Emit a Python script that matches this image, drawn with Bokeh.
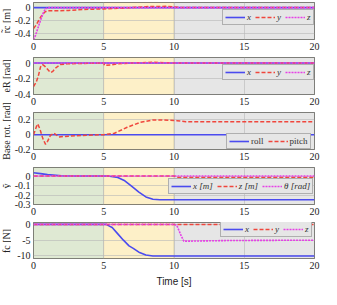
from bokeh.plotting import figure
from bokeh.layouts import column, row
from bokeh.models import Range1d, FixedTicker, BoxAnnotation, Legend, LegendItem
from bokeh.embed import file_html
from bokeh.resources import INLINE

# ---------------- data ----------------
phase_start = [0, 5, 10]
phase_end = [5, 10, 20]
phase_colors = ["#dfe9d3", "#fdf0c8", "#e6e6e6"]

x_ticks = [0, 5, 10, 15, 20]
x_tick_labels = ["0", "5", "10", "15", "20"]

y_axis_titles = ["r\u0303c [m]", "eR [rad]", "Base rot. [rad]", "y\u0303", "fc [N]"]

# Panel 1: r_c tilde [m]
p1_t_x = [0, 20]
p1_x = [0.0, 0.0]
p1_t_y = [0, 0.2, 0.4, 0.6, 0.8, 1.0, 1.3, 1.8, 2.5, 3.5, 5, 6, 7, 8, 9.5, 10, 10.5, 20]
p1_y = [-0.33, -0.27, -0.19, -0.12, -0.07, -0.05, -0.05, -0.05, -0.045, -0.03, -0.02, -0.01, 0.0, 0.015, 0.02, 0.01, 0.0, 0.0]
p1_t_z = [0, 0.15, 0.3, 0.5, 0.7, 0.85, 1.0, 20]
p1_z = [-0.5, -0.43, -0.33, -0.2, -0.08, -0.02, 0.0, 0.0]
p1_yticks = [-0.4, -0.2, 0]
p1_ylabels = ["-0.4", "-0.2", "0"]

# Panel 2: e_R [rad]
p2_t_x = [0, 20]
p2_x = [0.0, 0.0]
p2_t_y = [0, 0.2, 0.35, 0.5, 0.65, 0.8, 1.0, 1.2, 1.35, 1.6, 1.9, 2.4, 5, 5.05, 5.5, 6, 6.5, 7, 8.5, 10, 20]
p2_y = [-0.3, -0.24, -0.16, -0.05, -0.02, -0.04, -0.08, -0.12, -0.11, -0.06, -0.02, -0.01, 0.0, -0.03, -0.025, -0.01, -0.005, 0.0, 0.01, 0.0, 0.0]
p2_t_z = [0, 20]
p2_z = [0.0, 0.0]
p2_yticks = [-0.4, -0.2, 0]
p2_ylabels = ["-0.4", "-0.2", "0"]

# Panel 3: base rotation [rad]
p3_t_roll = [0, 20]
p3_roll = [0.0, 0.0]
p3_t_pitch = [0, 0.1, 0.23, 0.3, 0.45, 0.68, 0.86, 1.0, 1.2, 1.47, 1.8, 2.5, 3.5, 5, 5.76, 6.67, 7.57, 8.5, 9.15, 10.2, 10.85, 12, 20]
p3_pitch = [0.0, 0.05, 0.12, 0.145, 0.08, -0.06, -0.13, -0.09, -0.01, 0.02, -0.03, -0.02, -0.01, 0.0, 0.02, 0.1, 0.165, 0.2, 0.2, 0.19, 0.175, 0.175, 0.175]
p3_yticks = [-0.2, 0, 0.2]
p3_ylabels = ["-0.2", "0", "0.2"]

# Panel 4: y tilde
p4_t_x = [0, 0.5, 1, 2, 3, 5.3, 6, 6.5, 7, 7.5, 8, 8.5, 9, 20]
p4_x = [0.035, 0.025, 0.015, 0.003, 0.0, 0.0, -0.015, -0.05, -0.11, -0.17, -0.22, -0.245, -0.25, -0.25]
p4_t_z = [0, 10, 10.3, 20]
p4_z = [0.0, 0.0, -0.015, -0.015]
p4_t_th = [0, 20]
p4_th = [0.0, 0.0]
p4_yticks = [-0.3, -0.2, -0.1, 0]
p4_ylabels = ["-0.3", "-0.2", "-0.1", "0"]

# Panel 5: f_c [N]
p5_t_x = [0, 5.2, 5.3, 5.6, 6.0, 6.4, 6.8, 7.1, 7.5, 8.0, 8.5, 20]
p5_x = [0.0, 0.0, -0.3, -1.0, -3.0, -5.0, -6.8, -7.6, -8.8, -9.7, -10.0, -10.0]
p5_t_y = [0, 20]
p5_y = [0.0, 0.0]
p5_t_z = [0, 10, 10.2, 10.5, 10.7, 11, 14, 20]
p5_z = [0.0, 0.0, -0.3, -3.5, -5.3, -5.3, -5.1, -5.0]
p5_yticks = [-10, -5, 0]
p5_ylabels = ["-10", "-5", "0"]

# ---------------- style / layout ----------------
BLUE = "#4b4bef"
RED = "#f0463c"
MAG = "#e640e6"
DOT = "2 1"
SERIF = "Liberation Serif"

STRIP = 11
W = 321 - STRIP
BL, BR = 21, 7
TOP = 2
FRAME_H = 37
BOT = 16
BOT_LAST = 30
PANEL_H = TOP + FRAME_H + BOT
LAST_H = TOP + FRAME_H + BOT_LAST
TOTAL_H = 4 * PANEL_H + LAST_H


def make_panel(yr, yticks, ylabels, series, legend_loc, legend_style, last=False):
    bot = BOT_LAST if last else BOT
    p = figure(width=W, height=TOP + FRAME_H + bot, output_backend="svg",
               toolbar_location=None,
               x_range=Range1d(0, 20), y_range=Range1d(*yr),
               min_border_left=BL, min_border_right=BR, min_border_top=TOP,
               min_border_bottom=bot)
    p.background_fill_color = "white"
    p.border_fill_color = "white"
    p.outline_line_color = "#555555"
    p.outline_line_width = 1
    for s, e, c in zip(phase_start, phase_end, phase_colors):
        p.add_layout(BoxAnnotation(left=s, right=e, fill_color=c, fill_alpha=1.0,
                                   line_color="#aaa88a", line_width=0.8, level="image"))
    items = []
    for (t, v, color, dash, lw, label) in series:
        r = p.line(t, v, line_color=color, line_dash=dash, line_width=lw)
        items.append(LegendItem(label=label, renderers=[r]))
    leg = Legend(items=items, location=legend_loc, orientation="horizontal",
                 label_text_font=SERIF, label_text_font_size="9px",
                 label_text_font_style=legend_style, label_text_color="#333333",
                 glyph_width=20, glyph_height=8, label_standoff=2, spacing=4,
                 padding=2, margin=0, label_height=8, label_width=0,
                 border_line_color="#777777", border_line_width=1,
                 background_fill_color="#e6e6e6", background_fill_alpha=1.0)
    p.add_layout(leg)

    p.xaxis.ticker = FixedTicker(ticks=x_ticks)
    p.xaxis.major_label_overrides = dict(zip(x_ticks, x_tick_labels))
    p.yaxis.ticker = FixedTicker(ticks=yticks)
    p.yaxis.major_label_overrides = dict(zip(yticks, ylabels))
    for ax in (p.xaxis, p.yaxis):
        ax.axis_line_color = None
        ax.major_tick_in = 0
        ax.major_tick_out = 0
        ax.minor_tick_line_color = None
        ax.major_label_text_font = SERIF
        ax.major_label_text_font_size = "10px"
        ax.major_label_text_color = "#222222"
        ax.major_label_standoff = 3
    if last:
        p.xaxis.axis_label = "Time [s]"
        p.xaxis.axis_label_text_font = "Liberation Sans"
        p.xaxis.axis_label_text_font_size = "10px"
        p.xaxis.axis_label_text_font_style = "normal"
        p.xaxis.axis_label_text_color = "#222222"
        p.xaxis.axis_label_standoff = 4
    p.xgrid.grid_line_color = "#b8b8b8"
    p.xgrid.grid_line_alpha = 0.6
    p.ygrid.grid_line_color = "#b8b8b8"
    p.ygrid.grid_line_alpha = 0.6
    return p


FW = W - BL - BR  # frame width

p1 = make_panel((-0.5, 0.08), p1_yticks, p1_ylabels, [
    (p1_t_x, p1_x, BLUE, "solid", 1.6, "x"),
    (p1_t_y, p1_y, RED, "4 2", 1.5, "y"),
    (p1_t_z, p1_z, MAG, DOT, 1.6, "z"),
], (FW - 3 - 90, 14), "italic")

p2 = make_panel((-0.4, 0.07), p2_yticks, p2_ylabels, [
    (p2_t_x, p2_x, BLUE, "solid", 1.6, "x"),
    (p2_t_y, p2_y, RED, "4 2", 1.5, "y"),
    (p2_t_z, p2_z, MAG, DOT, 1.6, "z"),
], (FW - 3 - 90, 14), "italic")

p3 = make_panel((-0.2, 0.3), p3_yticks, p3_ylabels, [
    (p3_t_roll, p3_roll, BLUE, "solid", 1.6, "roll"),
    (p3_t_pitch, p3_pitch, RED, "4 2", 1.5, "pitch"),
], (FW - 3 - 86, 0), "normal")

p4 = make_panel((-0.3, 0.09), p4_yticks, p4_ylabels, [
    (p4_t_x, p4_x, BLUE, "solid", 1.6, "x [m]"),
    (p4_t_z, p4_z, RED, "4 2", 1.5, "z [m]"),
    (p4_t_th, p4_th, MAG, DOT, 1.6, "\u03b8 [rad]"),
], (FW - 3 - 144, 10), "italic")

p5 = make_panel((-10.8, 0.6), p5_yticks, p5_ylabels, [
    (p5_t_x, p5_x, BLUE, "solid", 1.6, "x"),
    (p5_t_y, p5_y, RED, "4 2", 1.5, "y"),
    (p5_t_z, p5_z, MAG, DOT, 1.6, "z"),
], (FW - 5 - 90, 21), "italic", last=True)

# strip carrying the y-axis titles (so long titles are not clipped per panel)
strip = figure(width=STRIP, height=TOTAL_H, output_backend="svg", toolbar_location=None,
               x_range=Range1d(0, 1), y_range=Range1d(0, TOTAL_H),
               min_border=0, x_axis_type=None, y_axis_type=None)
strip.outline_line_color = None
strip.grid.visible = False
centers = [TOTAL_H - (i * PANEL_H + TOP + FRAME_H / 2) for i in range(5)]
strip.text(x=[0.5] * 5, y=centers, text=y_axis_titles, angle=90, angle_units="deg",
           text_align="center", text_baseline="middle",
           text_font=SERIF, text_font_size="10px", text_color="#222222")

layout = row(strip, column(p1, p2, p3, p4, p5, spacing=0), spacing=0)
open("out.html", "w").write(file_html(layout, INLINE))
